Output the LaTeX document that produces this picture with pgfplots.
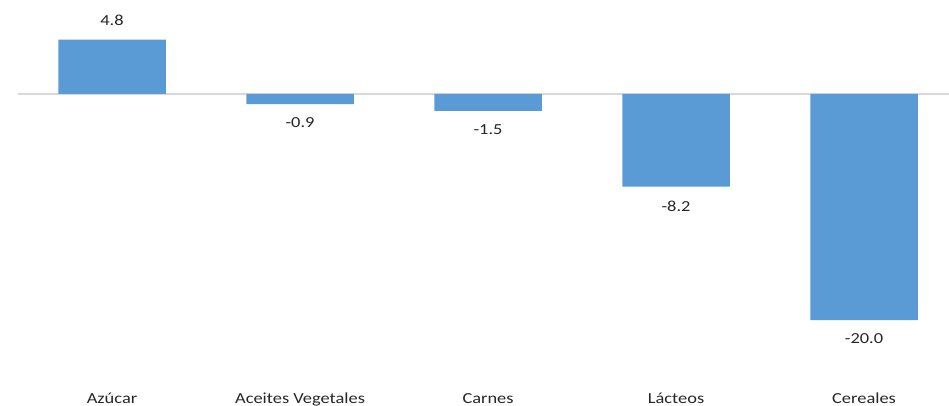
\documentclass[border=0pt]{standalone}
\usepackage{pgfplots}
\pgfplotsset{compat=1.18}
\usepackage{fontspec}
\setmainfont{Carlito}[FakeStretch=1.2]
\definecolor{barblue}{HTML}{5B9BD5}
\definecolor{zeroline}{HTML}{D9D9D9}
\definecolor{txt}{HTML}{262626}

\begin{document}
\begin{tikzpicture}
\begin{axis}[scale only axis, width=711.75pt, height=303.75pt,
  xmin=-0.596, xmax=4.452, ymin=-27.5, ymax=8.3,
  axis line style={draw=none}, major tick length=0pt,
  ytick=\empty, xtick={0,1,2,3,4},
  xticklabels={Azúcar, Aceites Vegetales, Carnes, Lácteos, Cereales},
  xticklabel style={anchor=base, yshift=1.5pt, font=\fontsize{11.5}{13}\selectfont, text=txt},
  ybar, bar width=0.572, bar shift=0pt,
  nodes near coords={\pgfmathprintnumber[fixed, fixed zerofill, precision=1, assume math mode=true]{\pgfplotspointmeta}},
  nodes near coords align=vertical,
  every node near coord/.append style={font=\fontsize{11.5}{13}\selectfont, text=txt, inner ysep=10.2pt},
  clip=false]
\draw[zeroline, line width=1pt] (axis cs:-0.5,0) -- (axis cs:4.452,0);
\addplot[fill=barblue, draw=none] coordinates {(0,4.8) (1,-0.9) (2,-1.5) (3,-8.2) (4,-20.0)};
\end{axis}
\pgfresetboundingbox
\useasboundingbox (current axis.south west) rectangle (current axis.north east);
\end{tikzpicture}
\end{document}
